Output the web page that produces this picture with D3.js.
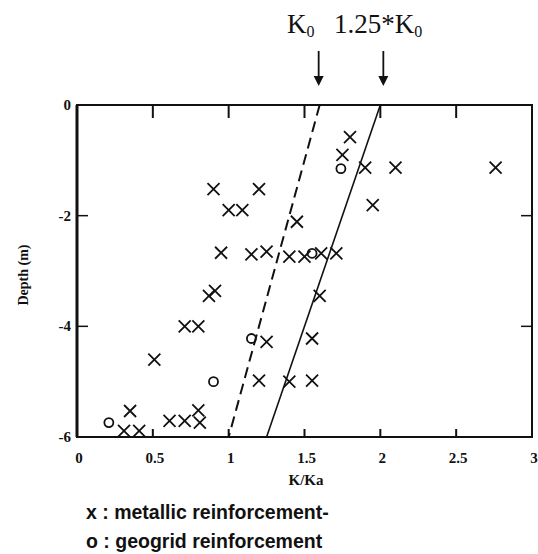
<!DOCTYPE html>
<html>
<head>
<meta charset="utf-8">
<script src="https://cdn.jsdelivr.net/npm/d3@7"></script>
<style>
  body { margin: 0; background: #fff; }
  svg { display: block; }
</style>
</head>
<body>
<svg id="chart" width="538" height="554"></svg>
<script>
// ---- data ----
const xTicks = [0, 0.5, 1, 1.5, 2, 2.5, 3];
const yTicks = [0, -2, -4, -6];
const xTickLabels = ["0", "0.5", "1", "1.5", "2", "2.5", "3"];
const yTickLabels = ["0", "-2", "-4", "-6"];

// metallic reinforcement (x markers): [K/Ka, depth]
const metallicK = [1.80, 1.75, 1.90, 2.10, 2.76, 1.95, 0.90, 1.20, 1.00, 1.09, 1.45,
  0.95, 1.15, 1.25, 1.40, 1.50, 1.61, 1.71, 0.87, 0.91, 1.60, 0.71, 0.80, 1.25, 1.55,
  0.51, 1.20, 1.40, 1.55, 0.35, 0.31, 0.41, 0.61, 0.71, 0.80, 0.81];
const metallicDepth = [-0.58, -0.90, -1.13, -1.13, -1.13, -1.81, -1.52, -1.52, -1.90, -1.90, -2.11,
  -2.67, -2.70, -2.65, -2.74, -2.74, -2.68, -2.68, -3.45, -3.36, -3.45, -4.00, -4.00, -4.28, -4.22,
  -4.60, -4.98, -5.00, -4.98, -5.53, -5.89, -5.89, -5.71, -5.71, -5.52, -5.74];

// geogrid reinforcement (o markers)
const geogridK = [1.74, 1.55, 1.15, 0.90, 0.21];
const geogridDepth = [-1.15, -2.68, -4.22, -5.00, -5.74];

// reference lines: [K/Ka at depth 0, K/Ka at depth -6]
const k0Line = { k: [1.6, 1.0], depth: [0, -6] };
const k125Line = { k: [2.0, 1.25], depth: [0, -6] };

// ---- layout ----
const svg = d3.select("#chart");
const x = d3.scaleLinear().domain([0, 3]).range([77, 532]);
const y = d3.scaleLinear().domain([0, -6]).range([105, 437]);
const serif = "'Liberation Serif', 'Times New Roman', serif";
const sans = "'Liberation Sans', Arial, sans-serif";

// frame
svg.append("rect")
  .attr("x", x(0)).attr("y", y(0))
  .attr("width", x(3) - x(0)).attr("height", y(-6) - y(0))
  .attr("fill", "none").attr("stroke", "#111").attr("stroke-width", 2);
svg.append("line").attr("x1", x(0)).attr("x2", x(0)).attr("y1", y(0)).attr("y2", y(-6))
  .attr("stroke", "#111").attr("stroke-width", 3);

// inward ticks
const inner = xTicks.filter(t => t > 0 && t < 3);
svg.append("g").selectAll("line").data(inner).join("line")
  .attr("x1", d => x(d)).attr("x2", d => x(d))
  .attr("y1", y(0)).attr("y2", y(0) + 13)
  .attr("stroke", "#111").attr("stroke-width", 2);
svg.append("g").selectAll("line").data(inner).join("line")
  .attr("x1", d => x(d)).attr("x2", d => x(d))
  .attr("y1", y(-6)).attr("y2", y(-6) - 8)
  .attr("stroke", "#111").attr("stroke-width", 2);
const innerY = yTicks.filter(t => t < 0 && t > -6);
svg.append("g").selectAll("line").data(innerY).join("line")
  .attr("x1", x(0)).attr("x2", x(0) + 11)
  .attr("y1", d => y(d)).attr("y2", d => y(d))
  .attr("stroke", "#111").attr("stroke-width", 1.5);
svg.append("g").selectAll("line").data(innerY).join("line")
  .attr("x1", x(3)).attr("x2", x(3) - 11)
  .attr("y1", d => y(d)).attr("y2", d => y(d))
  .attr("stroke", "#111").attr("stroke-width", 1.5);

// tick labels
svg.append("g").selectAll("text").data(xTicks).join("text")
  .attr("x", d => x(d) + 2).attr("y", 463)
  .attr("text-anchor", "middle")
  .attr("font-family", serif).attr("font-weight", "bold").attr("font-size", 15)
  .attr("fill", "#111")
  .text((d, i) => xTickLabels[i]);
svg.append("g").selectAll("text").data(yTicks).join("text")
  .attr("x", 71).attr("y", d => y(d) + 5)
  .attr("text-anchor", "end")
  .attr("font-family", serif).attr("font-weight", "bold").attr("font-size", 15)
  .attr("fill", "#111")
  .text((d, i) => yTickLabels[i]);

// axis titles
svg.append("text").attr("x", 306).attr("y", 485)
  .attr("text-anchor", "middle")
  .attr("font-family", serif).attr("font-weight", "bold").attr("font-size", 15)
  .attr("fill", "#111").text("K/Ka");
svg.append("text")
  .attr("transform", "translate(28,275) rotate(-90)")
  .attr("text-anchor", "middle")
  .attr("font-family", serif).attr("font-weight", "bold").attr("font-size", 14)
  .attr("fill", "#111").text("Depth (m)");

// reference lines
const line = d3.line().x(d => x(d[0])).y(d => y(d[1]));
svg.append("path")
  .attr("d", line(k0Line.k.map((k, i) => [k, k0Line.depth[i]])))
  .attr("fill", "none").attr("stroke", "#111").attr("stroke-width", 2)
  .attr("stroke-dasharray", "11,6");
svg.append("path")
  .attr("d", line(k125Line.k.map((k, i) => [k, k125Line.depth[i]])))
  .attr("fill", "none").attr("stroke", "#111").attr("stroke-width", 1.6);

// metallic markers (x)
const s = 6;
const mg = svg.append("g");
mg.selectAll("path").data(metallicK.map((k, i) => [k, metallicDepth[i]])).join("path")
  .attr("d", d => {
    const cx = x(d[0]), cy = y(d[1]);
    return `M${cx - s},${cy - s}L${cx + s},${cy + s}M${cx - s},${cy + s}L${cx + s},${cy - s}`;
  })
  .attr("stroke", "#111").attr("stroke-width", 1.8).attr("fill", "none");

// geogrid markers (o)
svg.append("g").selectAll("circle").data(geogridK.map((k, i) => [k, geogridDepth[i]])).join("circle")
  .attr("cx", d => x(d[0])).attr("cy", d => y(d[1])).attr("r", 4.5)
  .attr("fill", "none").attr("stroke", "#111").attr("stroke-width", 1.8);

// top annotations
const annot = svg.append("text").attr("y", 33)
  .attr("font-family", serif).attr("font-size", 27).attr("fill", "#111");
annot.append("tspan").attr("x", 287).text("K");
annot.append("tspan").attr("font-size", 16).attr("dy", 4).text("0");
annot.append("tspan").attr("x", 334).attr("dy", -4).text("1.25*K");
annot.append("tspan").attr("font-size", 16).attr("dy", 4).text("0");

// arrows
const arrows = [x(k0Line.k[0]) - 1, x(k125Line.k[0]) + 3];
const ag = svg.append("g");
arrows.forEach(ax => {
  ag.append("line").attr("x1", ax).attr("x2", ax).attr("y1", 51).attr("y2", 78)
    .attr("stroke", "#111").attr("stroke-width", 1.8);
  ag.append("path").attr("d", `M${ax - 5},${76}L${ax + 5},${76}L${ax},${86}Z`).attr("fill", "#111");
});

// legend
svg.append("text").attr("x", 86).attr("y", 519)
  .attr("font-family", sans).attr("font-weight", "bold").attr("font-size", 19.5)
  .attr("fill", "#111").text("x : metallic reinforcement-");
svg.append("text").attr("x", 86).attr("y", 548)
  .attr("font-family", sans).attr("font-weight", "bold").attr("font-size", 19.5)
  .attr("fill", "#111").text("o : geogrid reinforcement");
</script>
</body>
</html>
